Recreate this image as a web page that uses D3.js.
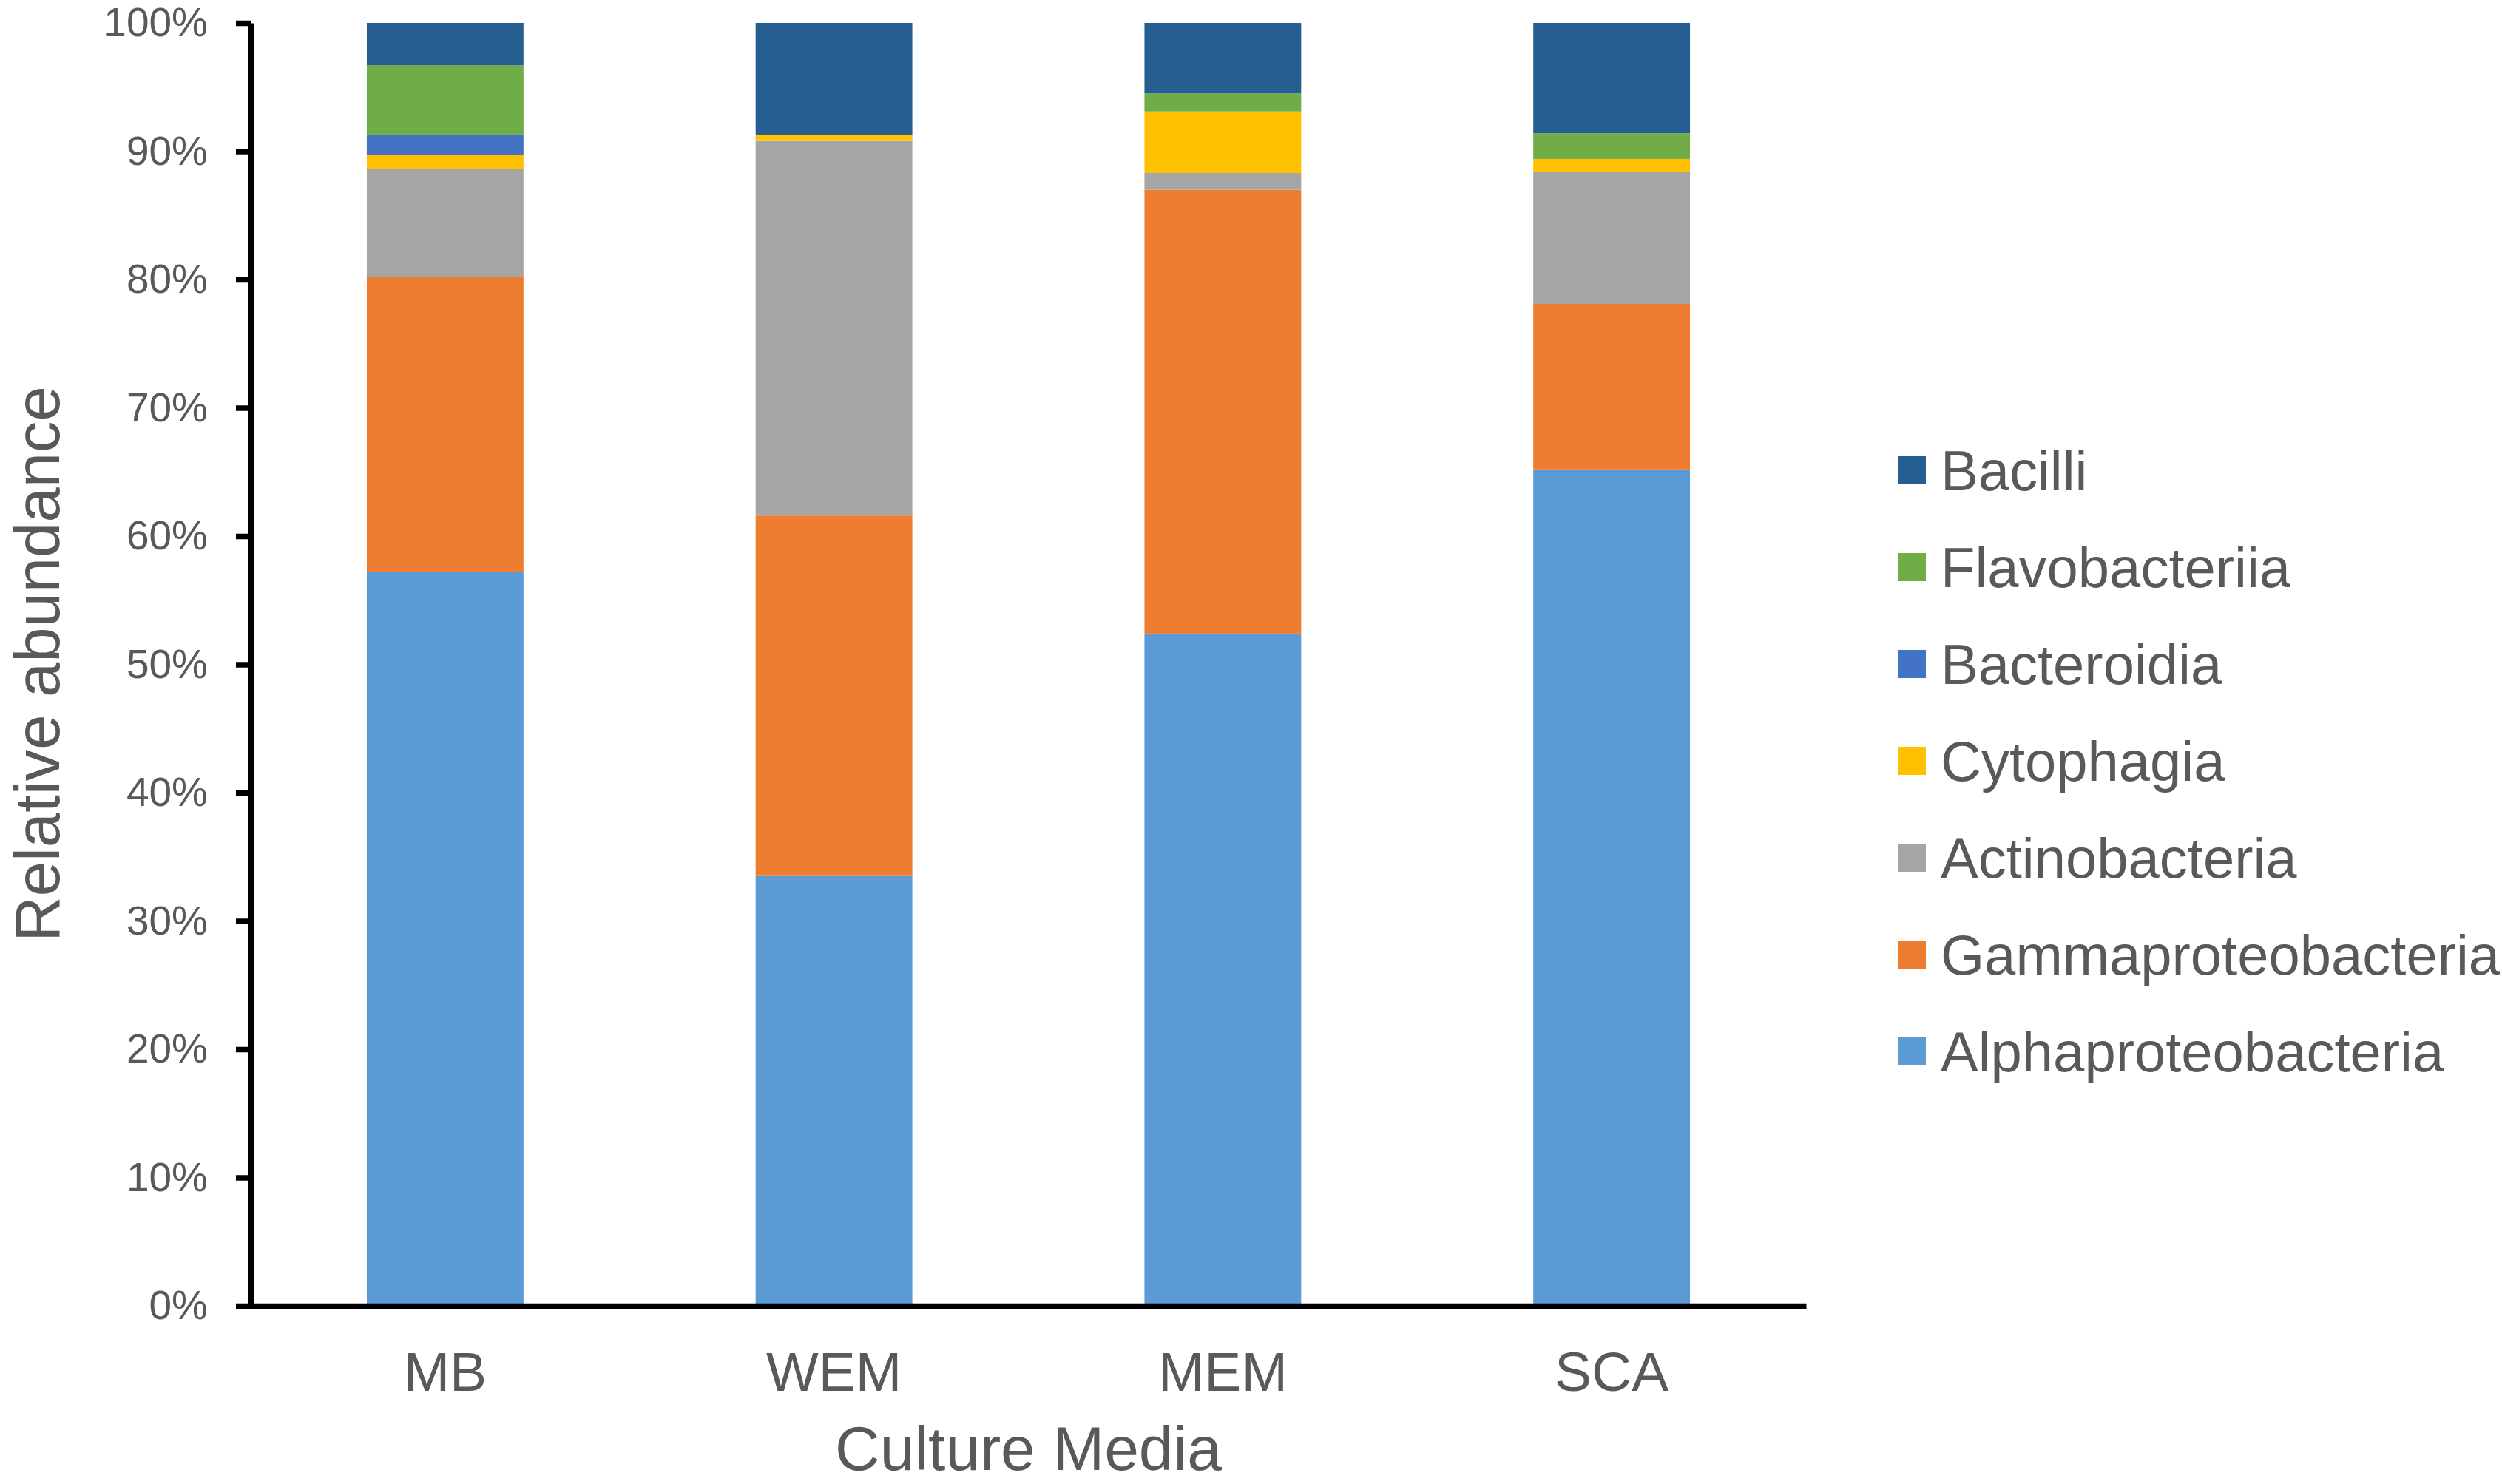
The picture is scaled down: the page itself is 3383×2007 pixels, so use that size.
<!DOCTYPE html>
<html>
<head>
<meta charset="utf-8">
<script src="https://cdn.jsdelivr.net/npm/d3@7"></script>
<style>
  body { margin: 0; background: #fff; }
  text { font-family: "Liberation Sans", Arial, sans-serif; fill: #595959; }
</style>
</head>
<body>
<div id="chart"></div>
<script>
// culture media on the x axis
var media = ["MB", "WEM", "MEM", "SCA"];

// classes, bottom of the stack first
var classes = ["Alphaproteobacteria", "Gammaproteobacteria", "Actinobacteria",
    "Cytophagia", "Bacteroidia", "Flavobacteriia", "Bacilli"];

var colors = ["#5B9BD5", "#ED7D31", "#A5A5A5", "#FFC000", "#4472C4", "#70AD47", "#255E91"];

// relative abundance in %, one array per class, same order as media
var alpha = [57.2, 33.5, 52.4, 65.2];
var gamma = [23.0, 28.1, 34.6, 12.9];
var actino = [8.4, 29.2, 1.3, 10.3];
var cyto = [1.1, 0.5, 4.8, 1.0];
var bactero = [1.6, 0.0, 0.0, 0.0];
var flavo = [5.4, 0.0, 1.4, 2.0];
var bacilli = [3.3, 8.7, 5.5, 8.6];

var yTicks = [0, 10, 20, 30, 40, 50, 60, 70, 80, 90, 100];

var width = 3383;
var height = 2007;
var margin = { left: 339, right: 941, top: 31, bottom: 241 };

var seriesValues = [alpha, gamma, actino, cyto, bactero, flavo, bacilli];

var table = media.map(function (m, i) {
    var row = { medium: m };
    classes.forEach(function (c, j) {
        row[c] = seriesValues[j][i];
    });
    return row;
});

var stacked = d3.stack().keys(classes)(table);

var svg = d3.select("#chart")
    .append("svg")
    .attr("width", width)
    .attr("height", height);

var xScale = d3.scaleBand()
    .domain(media)
    .range([margin.left, width - margin.right])
    .paddingInner(0.597)
    .paddingOuter(0.2985);

var yScale = d3.scaleLinear()
    .domain([0, 100])
    .range([height - margin.bottom, margin.top]);

var colorScale = d3.scaleOrdinal().domain(classes).range(colors);

// bars
svg.append("g")
    .selectAll("g")
    .data(stacked)
    .join("g")
    .attr("fill", function (d) { return colorScale(d.key); })
    .selectAll("rect")
    .data(function (d) { return d; })
    .join("rect")
    .attr("x", function (d) { return xScale(d.data.medium); })
    .attr("y", function (d) { return yScale(d[1]); })
    .attr("width", xScale.bandwidth())
    .attr("height", function (d) { return yScale(d[0]) - yScale(d[1]); });

// y axis
var yAxis = svg.append("g")
    .attr("transform", "translate(" + margin.left + ",0)")
    .call(d3.axisLeft(yScale)
        .tickValues(yTicks)
        .tickSize(20)
        .tickSizeOuter(0)
        .tickPadding(38)
        .tickFormat(function (d) { return d + "%"; }));

yAxis.selectAll("path, line").attr("stroke", "#000").attr("stroke-width", 7.5);
yAxis.selectAll("text")
    .attr("font-size", "55px")
    .attr("font-family", "Liberation Sans, Arial, sans-serif")
    .attr("fill", "#595959");

// x axis
var xAxis = svg.append("g")
    .attr("transform", "translate(0," + (height - margin.bottom) + ")")
    .call(d3.axisBottom(xScale).tickSize(0).tickSizeOuter(0).tickPadding(62));

xAxis.select("path").attr("stroke", "#000").attr("stroke-width", 7.5);
xAxis.selectAll("text")
    .attr("font-size", "75px")
    .attr("font-family", "Liberation Sans, Arial, sans-serif")
    .attr("fill", "#595959");

// axis titles
svg.append("text")
    .attr("x", (margin.left + width - margin.right) / 2)
    .attr("y", 1988)
    .attr("text-anchor", "middle")
    .attr("font-size", "84px")
    .text("Culture Media");

svg.append("text")
    .attr("transform", "translate(80," + 898 + ") rotate(-90)")
    .attr("text-anchor", "middle")
    .attr("font-size", "85px")
    .text("Relative abundance");

// legend, Bacilli on top
var legendItems = classes.slice().reverse();
var legendY = d3.scalePoint()
    .domain(legendItems)
    .range([636, 1422]);

var legend = svg.append("g");

legend.selectAll("rect")
    .data(legendItems)
    .join("rect")
    .attr("x", 2566)
    .attr("y", function (d) { return legendY(d) - 19; })
    .attr("width", 38)
    .attr("height", 38)
    .attr("fill", function (d) { return colorScale(d); });

legend.selectAll("text")
    .data(legendItems)
    .join("text")
    .attr("x", 2624)
    .attr("y", function (d) { return legendY(d); })
    .attr("dy", "0.36em")
    .attr("font-size", "76px")
    .text(function (d) { return d; });
</script>
</body>
</html>
